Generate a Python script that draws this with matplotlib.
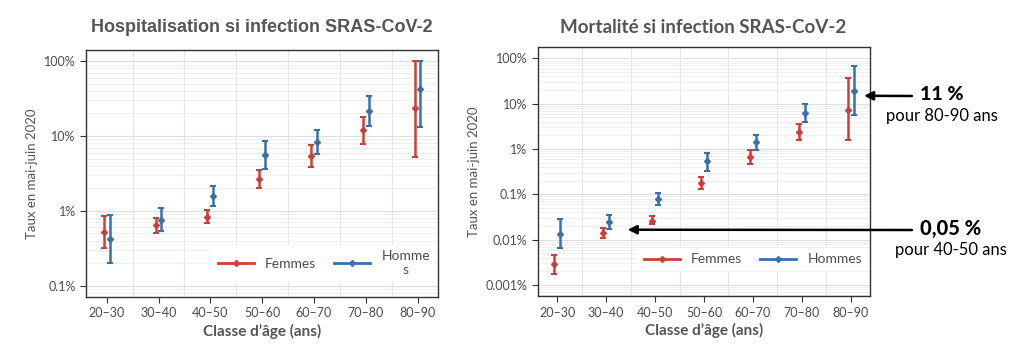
import numpy as np
import matplotlib
matplotlib.use("Agg")
import matplotlib.pyplot as plt
from matplotlib.lines import Line2D
from matplotlib.ticker import LogLocator, FixedLocator, NullFormatter

plt.rcParams['font.family'] = ['Lato', 'DejaVu Sans']

ages = ['20–30', '30–40', '40–50', '50–60', '60–70', '70–80', '80–90']

# hospitalisation (%)
hosp_f = [0.52, 0.64, 0.84, 2.65, 5.35, 11.9, 24]
hosp_f_lo = [0.32, 0.51, 0.69, 2.0, 3.9, 7.9, 5.3]
hosp_f_hi = [0.85, 0.81, 1.04, 3.5, 7.5, 17.8, 100]
hosp_h = [0.42, 0.76, 1.56, 5.5, 8.4, 21.8, 43]
hosp_h_lo = [0.20, 0.54, 1.15, 3.6, 5.7, 13.5, 13.1]
hosp_h_hi = [0.89, 1.08, 2.14, 8.7, 12.2, 34.4, 100]

# mortalité (%)
mort_f = [0.0029, 0.0139, 0.026, 0.177, 0.68, 2.39, 7.2]
mort_f_lo = [0.0017, 0.011, 0.0216, 0.133, 0.475, 1.59, 1.56]
mort_f_hi = [0.0046, 0.018, 0.0325, 0.24, 0.97, 3.65, 36.7]
mort_h = [0.0134, 0.0243, 0.08, 0.535, 1.41, 6.3, 18.9]
mort_h_lo = [0.0064, 0.017, 0.057, 0.33, 0.94, 3.9, 5.5]
mort_h_hi = [0.029, 0.0348, 0.108, 0.82, 2.08, 9.9, 66.5]

red = '#c9403a'
blue = '#3a70a8'
txt = '#4d4d4d'

fig = plt.figure(figsize=(10.24, 3.48), dpi=100)
ax1 = fig.add_axes([0.084, 0.1466, 0.344, 0.710])
ax2 = fig.add_axes([0.525, 0.149, 0.325, 0.7155])

x = np.arange(1, len(ages) + 1)
dodge = 0.055


def draw(ax, f, flo, fhi, h, hlo, hhi, ymin, ymax, ticks, labels):
    for vals, lo, hi, col, dx in [(f, flo, fhi, red, -dodge), (h, hlo, hhi, blue, dodge)]:
        vals = np.array(vals)
        err = [vals - np.array(lo), np.array(hi) - vals]
        ax.errorbar(x + dx, vals, yerr=err, fmt='D', color=col, ms=3,
                    elinewidth=1.8, capsize=2, capthick=1.5, zorder=3)
    ax.set_yscale('log')
    span = np.log10(ymax) - np.log10(ymin)
    ax.set_ylim(10 ** (np.log10(ymin) - 0.05 * span), 10 ** (np.log10(ymax) + 0.05 * span))
    ax.set_xlim(0.6, 7.4)
    ax.set_yticks(ticks)
    ax.set_yticklabels(labels)
    ax.yaxis.set_minor_locator(LogLocator(base=10, subs=np.arange(2, 10)))
    ax.yaxis.set_minor_formatter(NullFormatter())
    ax.set_xticks(x)
    ax.set_xticklabels(ages)
    ax.xaxis.set_minor_locator(FixedLocator(x[:-1] + 0.5))
    ax.grid(True, axis='y', which='major', color='#dedede', lw=0.8, zorder=0)
    ax.grid(True, axis='y', which='minor', color='#ececec', lw=0.6, zorder=0)
    ax.grid(True, axis='x', which='minor', color='#e6e6e6', lw=0.8, zorder=0)
    ax.set_axisbelow(True)
    ax.tick_params(which='major', length=4, color='#333333', labelsize=9, labelcolor=txt)
    ax.tick_params(which='minor', length=0)
    for s in ax.spines.values():
        s.set_color('#333333')
        s.set_linewidth(1.0)
    ax.set_xlabel('Classe d’âge (ans)', fontsize=11, fontweight='bold', color='#555555', labelpad=3)
    ax.set_ylabel('Taux en mai-juin 2020', fontsize=9.5, color='#555555', labelpad=4)


draw(ax1, hosp_f, hosp_f_lo, hosp_f_hi, hosp_h, hosp_h_lo, hosp_h_hi,
     0.1, 100, [0.1, 1, 10, 100], ['0.1%', '1%', '10%', '100%'])
draw(ax2, mort_f, mort_f_lo, mort_f_hi, mort_h, mort_h_lo, mort_h_hi,
     0.001, 100, [0.001, 0.01, 0.1, 1, 10, 100],
     ['0.001%', '0.01%', '0.1%', '1%', '10%', '100%'])

for ax, lab2, anchor in [(ax1, 'Homme\ns', (1.0, 0.05)), (ax2, 'Hommes', (1.0, 0.09))]:
    handles = [Line2D([0], [0], color=red, lw=2, marker='D', ms=3),
               Line2D([0], [0], color=blue, lw=2, marker='D', ms=3)]
    leg = ax.legend(handles, ['Femmes', lab2], loc='lower right', bbox_to_anchor=anchor,
                    ncol=2, numpoints=1, frameon=True, framealpha=1, edgecolor='none',
                    fontsize=10, handlelength=2.6, columnspacing=1.3, borderaxespad=0.2,
                    labelcolor=txt)
    leg.get_frame().set_boxstyle('square', pad=0)
    for t in leg.get_texts():
        t.set_multialignment('center')

fig.text(0.256, 0.92, 'Hospitalisation si infection SRAS-CoV-2', ha='center', va='center',
         fontsize=13, fontweight='bold', color='#555555', family=['Liberation Sans', 'DejaVu Sans'])
fig.text(0.687, 0.92, 'Mortalité si infection SRAS-CoV-2', ha='center', va='center',
         fontsize=13.5, fontweight='bold', color='#555555')

arrow = dict(arrowstyle='-|>', color='black', lw=1.8, mutation_scale=13, shrinkA=0, shrinkB=0)
ax2.annotate('', xy=(7.27, 15), xycoords='data', xytext=(912 / 1024, 1 - 96 / 348),
             textcoords='figure fraction', arrowprops=arrow, annotation_clip=False)
ax2.annotate('', xy=(2.44, 0.0165), xycoords='data', xytext=(912 / 1024, 1 - 230 / 348),
             textcoords='figure fraction', arrowprops=arrow, annotation_clip=False)

fig.text(920 / 1024, 1 - 95 / 348, '11 %', ha='left', va='center', fontsize=14,
         fontweight='black', color='black')
fig.text(942 / 1024, 1 - 116 / 348, 'pour 80-90 ans', ha='center', va='center',
         fontsize=12, color='black')
fig.text(920 / 1024, 1 - 229 / 348, '0,05 %', ha='left', va='center', fontsize=14.5,
         fontweight='black', color='black')
fig.text(951 / 1024, 1 - 250 / 348, 'pour 40-50 ans', ha='center', va='center',
         fontsize=12, color='black')

fig.savefig('out.png', dpi=100, facecolor='white')
